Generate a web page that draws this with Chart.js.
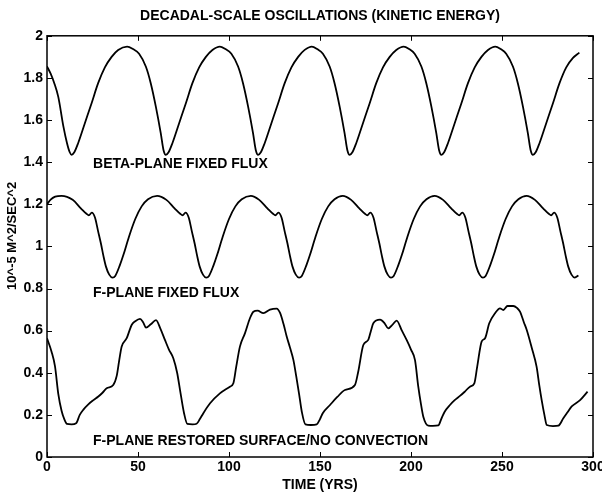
<!DOCTYPE html>
<html><head><meta charset="utf-8">
<script src="https://cdn.jsdelivr.net/npm/chart.js@4/dist/chart.umd.min.js"></script>
<style>html,body{margin:0;padding:0;background:#fff}</style>
</head><body>
<canvas id="c" width="602" height="495"></canvas>
<script>
const TITLE = "DECADAL-SCALE OSCILLATIONS (KINETIC ENERGY)";
const X_LABEL = "TIME (YRS)";
const Y_LABEL = "10^-5 M^2/SEC^2";
const SERIES_NAMES = ["BETA-PLANE FIXED FLUX", "F-PLANE FIXED FLUX", "F-PLANE RESTORED SURFACE/NO CONVECTION"];

const betaYears = [
  0,2,4,6.2,9,11,12.5,13.5,
  15,17.1,20.8,24.5,28.1,31.8,35.5,39.1,44,47.3,50.6,54.3,57,59.8,62.5,64,65.3,
  66.8,68.9,72.6,76.3,79.9,83.6,87.3,90.9,95,98,101.3,105,107.7,110.5,113.2,114.7,116,
  117.5,119.6,123.3,127,130.6,134.3,138,141.6,145.5,148.5,151.6,155.3,158,160.8,163.5,165,166.3,
  167.8,169.9,173.6,177.3,180.9,184.6,188.3,191.9,196,199,202,205.7,208.4,211.2,213.9,215.4,216.7,
  218.2,220.3,224,227.7,231.3,235,238.7,242.3,246.3,249.3,252.3,256,258.7,261.5,264.2,265.7,267,
  268.5,270.6,274.3,278,281.6,285.3,289,292.5];
const betaValues = [
  1.855,1.82,1.775,1.71,1.57,1.49,1.447,1.435,
  1.447,1.49,1.585,1.68,1.775,1.85,1.9,1.933,1.949,1.937,1.915,1.854,1.775,1.664,1.538,1.458,1.435,
  1.447,1.49,1.585,1.68,1.775,1.85,1.9,1.933,1.949,1.937,1.915,1.854,1.775,1.664,1.538,1.458,1.435,
  1.447,1.49,1.585,1.68,1.775,1.85,1.9,1.933,1.949,1.937,1.915,1.854,1.775,1.664,1.538,1.458,1.435,
  1.447,1.49,1.585,1.68,1.775,1.85,1.9,1.933,1.949,1.937,1.915,1.854,1.775,1.664,1.538,1.458,1.435,
  1.447,1.49,1.585,1.68,1.775,1.85,1.9,1.933,1.949,1.937,1.915,1.854,1.775,1.664,1.538,1.458,1.435,
  1.447,1.49,1.585,1.68,1.775,1.85,1.895,1.92];

const fixedYears = [
  0,2,4.5,8,14.1,18.6,21.7,23,24.6,26.4,28,29.6,31,32.4,34.2,36,
  37.5,40,42,45,48.5,52,55.5,60.5,
  65.6,70.1,73.2,74.5,76.1,77.9,79.5,81.1,82.5,83.9,85.7,87.5,
  89,91.5,93.5,96.5,100,103.5,107,112,
  116.6,121.1,124.2,125.5,127.1,128.9,130.5,132.1,133.5,134.9,136.7,138.5,
  140,142.5,144.5,147.5,151,154.5,158,162.5,
  167.1,171.6,174.7,176,177.6,179.4,181,182.6,184,185.4,187.2,189,
  190.5,193,195,198,201.5,205,208.5,213,
  217.6,222.1,225.2,226.5,228.1,229.9,231.5,233.1,234.5,235.9,237.7,239.5,
  241,243.5,245.5,248.5,252,255.5,259,263.5,
  268.1,272.6,275.7,277,278.6,280.4,282,283.6,285,286.4,288.2,290,
  292];
const fixedValues = [
  1.2,1.222,1.236,1.24,1.221,1.181,1.155,1.148,1.16,1.136,1.075,1.015,0.955,0.904,0.866,0.852,
  0.86,0.91,0.96,1.045,1.13,1.19,1.224,1.24,
  1.221,1.181,1.155,1.148,1.16,1.136,1.075,1.015,0.955,0.904,0.866,0.852,
  0.86,0.91,0.96,1.045,1.13,1.19,1.224,1.24,
  1.221,1.181,1.155,1.148,1.16,1.136,1.075,1.015,0.955,0.904,0.866,0.852,
  0.86,0.91,0.96,1.045,1.13,1.19,1.224,1.24,
  1.221,1.181,1.155,1.148,1.16,1.136,1.075,1.015,0.955,0.904,0.866,0.852,
  0.86,0.91,0.96,1.045,1.13,1.19,1.224,1.24,
  1.221,1.181,1.155,1.148,1.16,1.136,1.075,1.015,0.955,0.904,0.866,0.852,
  0.86,0.91,0.96,1.045,1.13,1.19,1.224,1.24,
  1.221,1.181,1.155,1.148,1.16,1.136,1.075,1.015,0.955,0.904,0.866,0.852,
  0.862];

const restYears = [
  0,2.5,4.4,6.2,8,9.5,11,13.5,16,18,
  20,22.7,25.5,28.2,30.5,32.8,36.4,38.3,39.7,41,
  43.8,45.3,46.5,48.5,51.1,52.8,54.4,57,59.9,62.3,
  64.8,67,69.4,71.5,73.1,75.3,77.1,80,82.2,84,
  85.9,89.6,95,100.5,102.4,104,106,108.8,111.5,113.4,
  115.7,118.9,122.5,126.2,128,130,131.7,133.5,135.4,137,
  138.5,140,142,145,148.2,150,151.5,155.5,159.5,163.7,
  169.2,171,173.8,176.5,178,179.3,183,185.5,187.5,190,
  192.1,195,197.6,200,202.2,204,205.5,206.8,209.5,212,
  215,216.8,218.5,221.4,224,226.9,229.5,232.4,234.8,236.4,
  238.8,240.7,243,246.2,248.9,250.7,253,256.2,258.2,259.9,
  262,263.6,266.3,269,270.5,271.8,273.3,274.6,278,281,
  283.7,286,288.3,292.9,297];
const restValues = [
  0.564,0.5,0.43,0.3,0.22,0.18,0.157,0.155,0.16,0.2,
  0.225,0.25,0.27,0.287,0.305,0.326,0.342,0.385,0.46,0.524,
  0.564,0.6,0.627,0.645,0.656,0.64,0.614,0.63,0.65,0.61,
  0.556,0.51,0.469,0.4,0.318,0.208,0.157,0.155,0.158,0.18,
  0.208,0.255,0.302,0.334,0.35,0.43,0.524,0.588,0.659,0.69,
  0.695,0.683,0.7,0.705,0.685,0.63,0.572,0.52,0.46,0.38,
  0.3,0.215,0.155,0.152,0.155,0.18,0.208,0.247,0.285,0.318,
  0.342,0.405,0.532,0.556,0.6,0.635,0.652,0.635,0.611,0.63,
  0.648,0.6,0.556,0.51,0.46,0.334,0.25,0.19,0.149,0.148,
  0.15,0.184,0.215,0.247,0.27,0.29,0.31,0.334,0.35,0.43,
  0.548,0.564,0.635,0.683,0.706,0.698,0.717,0.717,0.708,0.69,
  0.64,0.603,0.52,0.429,0.34,0.27,0.2,0.152,0.147,0.149,
  0.184,0.212,0.24,0.27,0.31];

const FONT = '"Liberation Sans", Arial, Helvetica, sans-serif';

function pts(xs, ys) { return xs.map((t, i) => ({ x: t, y: ys[i] })); }
function ds(name, xs, ys) {
  return { label: name, data: pts(xs, ys), borderColor: '#000', borderWidth: 1.8,
           pointRadius: 0, fill: false, cubicInterpolationMode: 'monotone' };
}

const framePlugin = {
  id: 'frame',
  afterDraw(chart, args, opts) {
    const { ctx, chartArea: a, scales: { x, y } } = chart;
    ctx.save();
    ctx.strokeStyle = '#000';
    ctx.lineWidth = 1.5;
    ctx.strokeRect(a.left, a.top, a.right - a.left, a.bottom - a.top);
    ctx.lineWidth = 1;
    const L = opts.tickLen;
    ctx.beginPath();
    x.ticks.forEach(t => {
      const px = Math.round(x.getPixelForValue(t.value)) + 0.5;
      ctx.moveTo(px, a.bottom); ctx.lineTo(px, a.bottom - L);
      ctx.moveTo(px, a.top); ctx.lineTo(px, a.top + L);
    });
    y.ticks.forEach(t => {
      const py = Math.round(y.getPixelForValue(t.value)) + 0.5;
      ctx.moveTo(a.left, py); ctx.lineTo(a.left + L, py);
      ctx.moveTo(a.right, py); ctx.lineTo(a.right - L, py);
    });
    ctx.stroke();
    ctx.fillStyle = '#000';
    ctx.font = 'bold 14px ' + FONT;
    ctx.textAlign = 'left';
    ctx.textBaseline = 'alphabetic';
    opts.labels.forEach(l => ctx.fillText(l.text, x.getPixelForValue(l.x), y.getPixelForValue(l.y)));
    ctx.save();
    ctx.font = 'bold 13px ' + FONT;
    ctx.textAlign = 'center';
    ctx.textBaseline = 'middle';
    ctx.translate(opts.yTitleX, y.getPixelForValue(opts.yTitleAt));
    ctx.rotate(-Math.PI / 2);
    ctx.fillText(Y_LABEL, 0, 0);
    ctx.restore();
    ctx.restore();
  }
};

const tickFont = { family: FONT, size: 14, weight: 'bold' };

new Chart(document.getElementById('c'), {
  type: 'line',
  data: { datasets: [
    ds(SERIES_NAMES[0], betaYears, betaValues),
    ds(SERIES_NAMES[1], fixedYears, fixedValues),
    ds(SERIES_NAMES[2], restYears, restValues)
  ] },
  options: {
    responsive: false, animation: false, devicePixelRatio: 1,
    layout: { padding: { left: 0, right: 9, top: 0, bottom: 0 } },
    plugins: {
      legend: { display: false },
      tooltip: { enabled: false },
      title: { display: true, text: TITLE, fullSize: false, color: '#000',
               font: { family: FONT, size: 14, weight: 'bold' }, padding: { top: 8, bottom: 11 } },
      frame: {
        tickLen: 5,
        yTitleX: 12,
        yTitleAt: 1.05,
        labels: [
          { text: SERIES_NAMES[0], x: 25.3, y: 1.373 },
          { text: SERIES_NAMES[1], x: 25.3, y: 0.762 },
          { text: SERIES_NAMES[2], x: 25.3, y: 0.057 }
        ]
      }
    },
    scales: {
      x: {
        type: 'linear', min: 0, max: 300,
        ticks: { stepSize: 50, color: '#000', font: tickFont, padding: 2, maxRotation: 0,
                 callback: v => String(v) },
        grid: { display: false, drawTicks: false },
        border: { display: false },
        title: { display: true, text: X_LABEL, color: '#000', font: tickFont, padding: { top: 0, bottom: 1 } },
        afterFit(s) { s.height = 38; s.paddingLeft = 0; s.paddingRight = 0; }
      },
      y: {
        type: 'linear', min: 0, max: 2,
        ticks: { stepSize: 0.2, color: '#000', font: tickFont, padding: 4,
                 callback: v => String(Math.round(v * 10) / 10) },
        grid: { display: false, drawTicks: false },
        border: { display: false },
        afterFit(s) { s.width = 47; s.paddingTop = 0; s.paddingBottom = 0; }
      }
    }
  },
  plugins: [framePlugin]
});
</script>
</body></html>
